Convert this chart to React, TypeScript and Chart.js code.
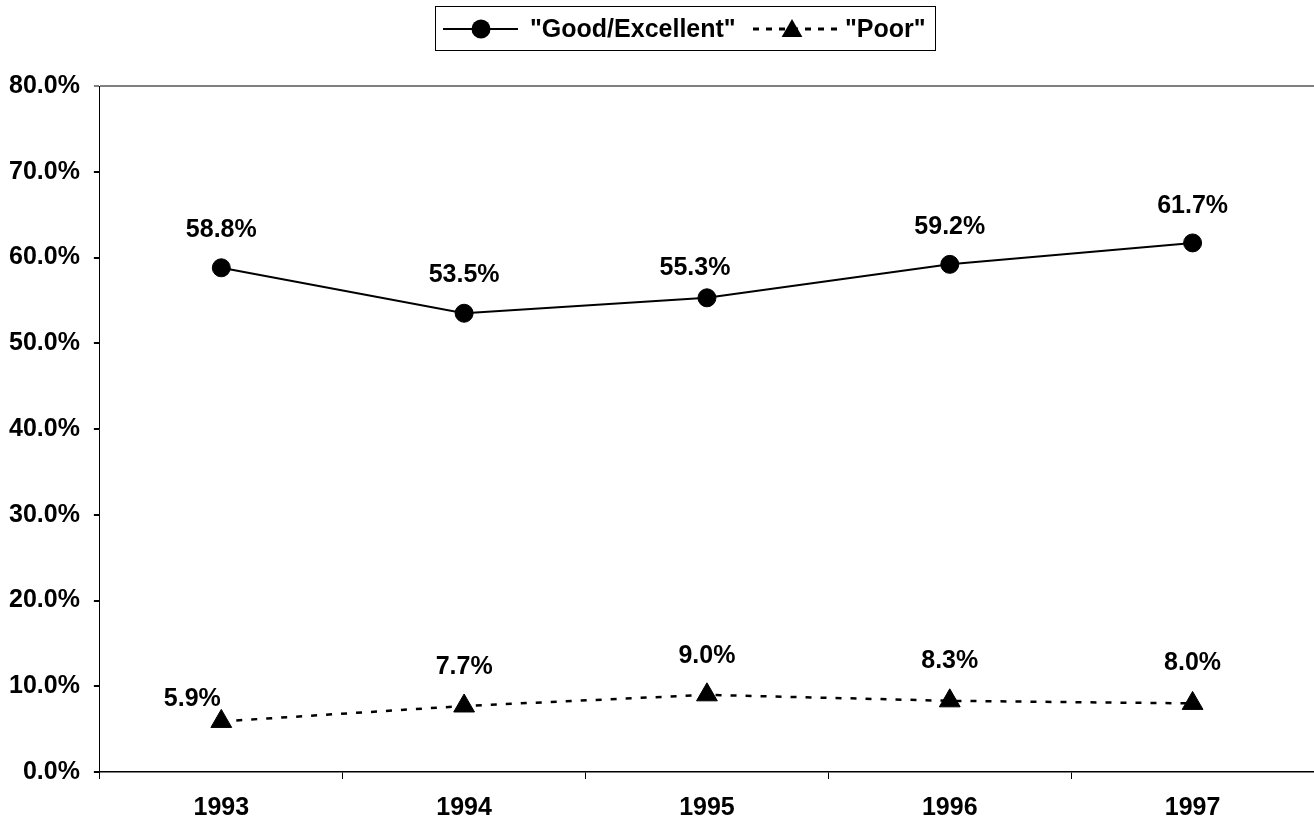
import React, { useEffect, useRef } from "react";
import { Chart, registerables } from "chart.js";

Chart.register(...registerables);

const years = ["1993", "1994", "1995", "1996", "1997"];
const goodExcellent = [58.8, 53.5, 55.3, 59.2, 61.7];
const poor = [5.9, 7.7, 9.0, 8.3, 8.0];
const seriesNames = ['"Good/Excellent"', '"Poor"'];
const yMin = 0;
const yMax = 80;
const yStep = 10;

const FONT = '"Liberation Sans", Arial, Helvetica, sans-serif';
const FONT_SIZE = 25;

// label placement relative to each point (style, not data)
const goodLabelShift = [[0, -38], [0, -38], [-12, -30], [0, -37], [0, -37]];
const poorLabelShift = [[-29, -22], [0, -39], [0, -39], [0, -40], [0, -40]];

const fmt = (v: number) => v.toFixed(1) + "%";

const labelsPlugin = {
  id: "pointLabels",
  afterDatasetsDraw(chart: any) {
    const ctx = chart.ctx;
    ctx.save();
    ctx.font = `bold ${FONT_SIZE}px ${FONT}`;
    ctx.fillStyle = "#000";
    ctx.textAlign = "center";
    ctx.textBaseline = "middle";
    const shifts = [goodLabelShift, poorLabelShift];
    chart.data.datasets.forEach((ds: any, di: number) => {
      const meta = chart.getDatasetMeta(di);
      meta.data.forEach((pt: any, i: number) => {
        const [dx, dy] = shifts[di][i];
        ctx.fillText(fmt(ds.data[i]), pt.x + dx, pt.y + dy);
      });
    });
    ctx.restore();
  },
};

const legendPlugin = {
  id: "customLegend",
  afterDraw(chart: any) {
    const ctx = chart.ctx;
    ctx.save();
    ctx.strokeStyle = "#000";
    ctx.lineWidth = 1;
    ctx.strokeRect(435.5, 6.5, 500, 44);
    const cy = 29;
    // item 1: solid line + circle
    ctx.beginPath();
    ctx.lineWidth = 2;
    ctx.setLineDash([]);
    ctx.moveTo(443, cy);
    ctx.lineTo(518, cy);
    ctx.stroke();
    ctx.beginPath();
    ctx.fillStyle = "#000";
    ctx.arc(481, cy, 9.5, 0, Math.PI * 2);
    ctx.fill();
    // item 2: dashed line + triangle
    ctx.beginPath();
    ctx.lineWidth = 3;
    ctx.setLineDash([6, 7]);
    ctx.moveTo(753, cy);
    ctx.lineTo(840, cy);
    ctx.stroke();
    ctx.setLineDash([]);
    const tx = 792, r = 12, ty = cy + 2;
    ctx.beginPath();
    ctx.moveTo(tx, ty - r);
    ctx.lineTo(tx + r * Math.sin((2 * Math.PI) / 3), ty + r / 2);
    ctx.lineTo(tx - r * Math.sin((2 * Math.PI) / 3), ty + r / 2);
    ctx.closePath();
    ctx.fill();
    // texts
    ctx.font = `bold ${FONT_SIZE}px ${FONT}`;
    ctx.textAlign = "left";
    ctx.textBaseline = "middle";
    ctx.fillText(seriesNames[0], 530, cy + 1);
    ctx.fillText(seriesNames[1], 845, cy + 1);
    ctx.restore();
  },
};

export default function App() {
  const canvasRef = useRef<HTMLCanvasElement | null>(null);

  useEffect(() => {
    document.body.style.margin = "0";
    const canvas = canvasRef.current;
    if (!canvas) return;
    const chart = new Chart(canvas, {
      type: "line",
      data: {
        labels: years,
        datasets: [
          {
            label: seriesNames[0],
            data: goodExcellent,
            borderColor: "#000",
            backgroundColor: "#000",
            borderWidth: 2,
            pointStyle: "circle",
            pointRadius: 9,
            pointBorderWidth: 1,
            pointBackgroundColor: "#000",
            pointBorderColor: "#000",
            tension: 0,
          },
          {
            label: seriesNames[1],
            data: poor,
            borderColor: "#000",
            backgroundColor: "#000",
            borderWidth: 2.5,
            borderDash: [6, 9],
            pointStyle: "triangle",
            pointRadius: 12,
            pointBorderWidth: 1,
            pointBackgroundColor: "#000",
            pointBorderColor: "#000",
            tension: 0,
          },
        ],
      },
      options: {
        responsive: false,
        animation: false,
        layout: { autoPadding: false, padding: { top: 86, left: -5, right: 0, bottom: -17 } },
        plugins: {
          legend: { display: false },
          tooltip: { enabled: false },
          title: { display: false },
        },
        scales: {
          x: {
            offset: true,
            grid: {
              offset: true,
              color: "transparent",
              tickColor: "#000",
              tickLength: 7,
              drawTicks: true,
            },
            border: { color: "#000", width: 1.5 },
            ticks: {
              color: "#000",
              padding: 0,
              font: { family: FONT, size: FONT_SIZE, weight: "bold", lineHeight: 2.32 },
              maxRotation: 0,
            },
          },
          y: {
            min: yMin,
            max: yMax,
            grid: {
              color: (c: any) => (c.tick && c.tick.value === yMax ? "#808080" : "transparent"),
              lineWidth: 2,
              tickColor: (c: any) => (c.tick && c.tick.value === yMax ? "#808080" : "#000"),
              tickLength: 6,
            },
            border: { color: "#000", width: 1 },
            ticks: {
              stepSize: yStep,
              color: "#000",
              padding: 14,
              font: { family: FONT, size: FONT_SIZE, weight: "bold", lineHeight: 1 },
              callback: (v: any) => fmt(Number(v)),
            },
          },
        },
      },
      plugins: [labelsPlugin, legendPlugin],
    });
    return () => chart.destroy();
  }, []);

  return (
    <div style={{ width: 1314, height: 820 }}>
      <canvas ref={canvasRef} width={1314} height={820} style={{ display: "block" }} />
    </div>
  );
}
